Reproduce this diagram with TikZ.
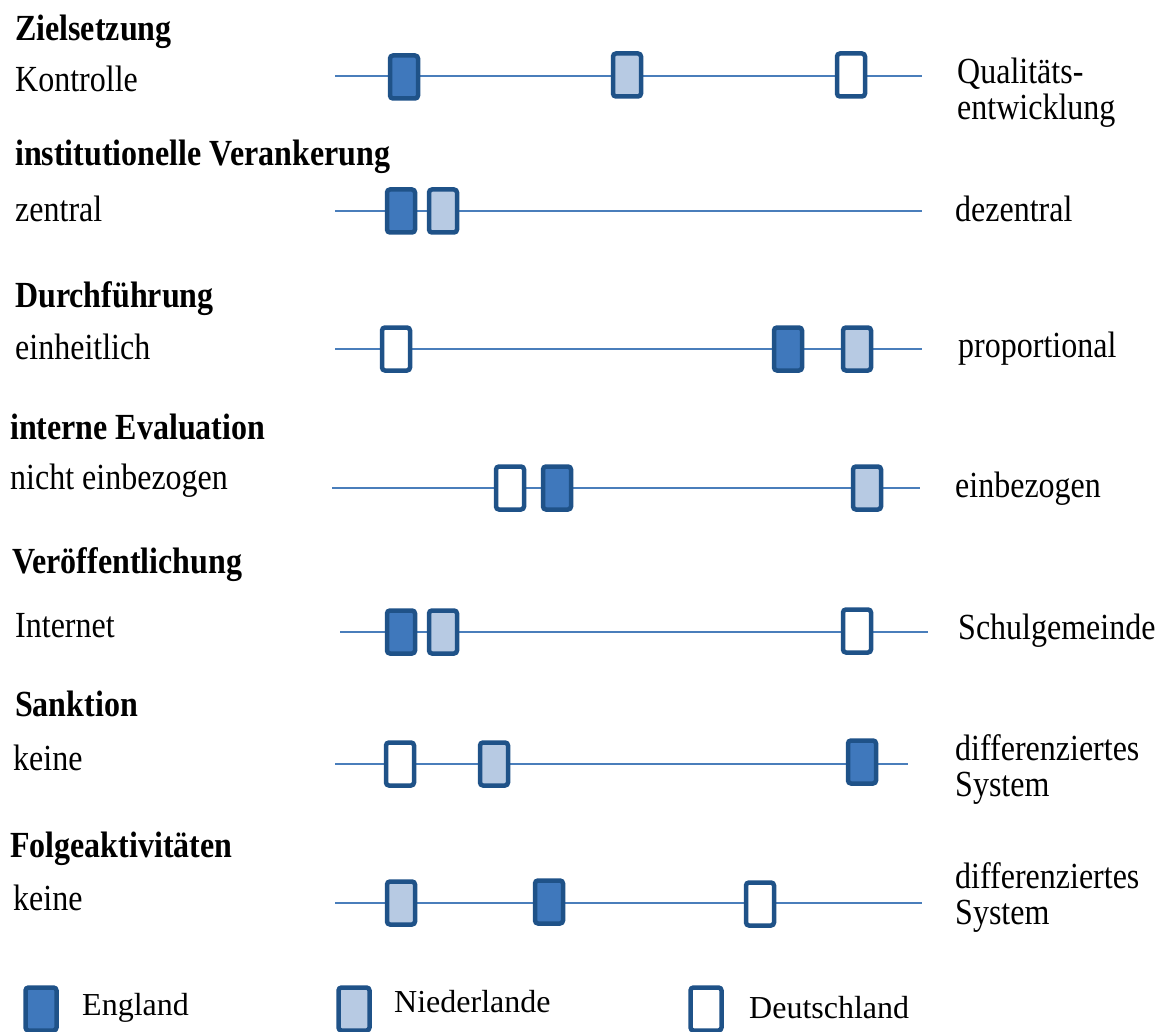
\documentclass[tikz,border=0pt]{standalone}
\usepackage{fontspec}
\usepackage{graphicx}
\setmainfont{Liberation Serif}
\definecolor{barline}{HTML}{4A7EBB}
\definecolor{frame}{HTML}{1F5288}
\definecolor{engfill}{HTML}{3F78BC}
\definecolor{nlfill}{HTML}{B7CAE3}
\newcommand{\tall}[1]{\scalebox{1}[1.15]{#1}}
\tikzset{
  axis/.style={draw=barline, line width=2.4pt},
  mark box/.style={draw=frame, line width=4.5pt, rounded corners=3pt,
    minimum width=28pt, minimum height=43pt, inner sep=0pt},
  eng/.style={mark box, fill=engfill},
  nl/.style={mark box, fill=nlfill},
  de/.style={mark box, fill=white},
  key box/.style={minimum width=31pt, minimum height=43pt},
  head/.style={anchor=base west, inner sep=0pt, font=\fontsize{32}{38}\selectfont\bfseries},
  lbl/.style={anchor=base west, inner sep=0pt, font=\fontsize{32}{38}\selectfont},
  lbl2/.style={anchor=base west, inner sep=0pt, align=left, font=\fontsize{32}{37}\selectfont},
  leg/.style={anchor=base west, inner sep=0pt, font=\fontsize{32}{38}\selectfont},
}
\begin{document}
\begin{tikzpicture}[x=1pt,y=1pt]
\useasboundingbox (0,0) rectangle (1167,-1032);

% --- Zielsetzung
\node[head] (h1) at (15,-41) {\tall{Zielsetzung}};
\node[lbl] (a1) at (15,-92) {\tall{Kontrolle}};
\node[lbl] (b1) at (957,-84) {\tall{Qualitäts-}};
\node[lbl] (c1) at (957,-120) {\tall{entwicklung}};
\coordinate (s1) at (335,-76);
\coordinate (e1) at (922,-76);
\draw[axis] (s1) -- (e1);
\node[eng] (en1) at (404,-77) {};
\node[nl]  (nl1) at (627,-75) {};
\node[de]  (de1) at (851,-75) {};

% --- institutionelle Verankerung
\node[head] (h2) at (15,-166) {\tall{institutionelle Verankerung}};
\node[lbl] (a2) at (15,-222) {\tall{zentral}};
\node[lbl] (b2) at (955,-222) {\tall{dezentral}};
\coordinate (s2) at (335,-211);
\coordinate (e2) at (922,-211);
\draw[axis] (s2) -- (e2);
\node[eng] (en2) at (401,-211) {};
\node[nl]  (nl2) at (443,-211) {};

% --- Durchführung
\node[head] (h3) at (15,-308) {\tall{Durchführung}};
\node[lbl] (a3) at (15,-359) {\tall{einheitlich}};
\node[lbl] (b3) at (958,-357) {\tall{proportional}};
\coordinate (s3) at (335,-349);
\coordinate (e3) at (922,-349);
\draw[axis] (s3) -- (e3);
\node[de]  (de3) at (396,-349) {};
\node[eng] (en3) at (788,-349) {};
\node[nl]  (nl3) at (857,-349) {};

% --- interne Evaluation
\node[head] (h4) at (10,-439) {\tall{interne Evaluation}};
\node[lbl] (a4) at (10,-489) {\tall{nicht einbezogen}};
\node[lbl] (b4) at (955,-497) {\tall{einbezogen}};
\coordinate (s4) at (332,-488);
\coordinate (e4) at (920,-488);
\draw[axis] (s4) -- (e4);
\node[de]  (de4) at (510,-488) {};
\node[eng] (en4) at (557,-488) {};
\node[nl]  (nl4) at (867,-488) {};

% --- Veröffentlichung
\node[head] (h5) at (12,-573) {\tall{Veröffentlichung}};
\node[lbl] (a5) at (15,-637) {\tall{Internet}};
\node[lbl] (b5) at (958,-639) {\tall{Schulgemeinde}};
\coordinate (s5) at (340,-632);
\coordinate (e5) at (928,-632);
\draw[axis] (s5) -- (e5);
\node[eng] (en5) at (401,-632) {};
\node[nl]  (nl5) at (443,-632) {};
\node[de]  (de5) at (857,-631) {};

% --- Sanktion
\node[head] (h6) at (15,-716) {\tall{Sanktion}};
\node[lbl] (a6) at (13,-770) {\tall{keine}};
\node[lbl2] (b6) at (955,-760) {\tall{differenziertes}};
\node[lbl2] (c6) at (955,-796) {\tall{System}};
\coordinate (s6) at (335,-764);
\coordinate (e6) at (908,-764);
\draw[axis] (s6) -- (e6);
\node[de]  (de6) at (400,-764) {};
\node[nl]  (nl6) at (494,-764) {};
\node[eng] (en6) at (862,-762) {};

% --- Folgeaktivitäten
\node[head] (h7) at (10,-857) {\tall{Folgeaktivitäten}};
\node[lbl] (a7) at (13,-910) {\tall{keine}};
\node[lbl2] (b7) at (955,-888) {\tall{differenziertes}};
\node[lbl2] (c7) at (955,-924) {\tall{System}};
\coordinate (s7) at (335,-903);
\coordinate (e7) at (922,-903);
\draw[axis] (s7) -- (e7);
\node[nl]  (nl7) at (401,-903) {};
\node[eng] (en7) at (549,-902) {};
\node[de]  (de7) at (760,-904) {};

% --- legend
\node[eng, key box] (ke) at (41,-1009) {};
\node[leg] (te) at (82,-1015) {England};
\node[nl, key box]  (kn) at (354,-1009) {};
\node[leg] (tn) at (394,-1012) {Niederlande};
\node[de, key box]  (kd) at (706,-1009) {};
\node[leg] (td) at (749,-1018) {Deutschland};
\end{tikzpicture}
\end{document}
